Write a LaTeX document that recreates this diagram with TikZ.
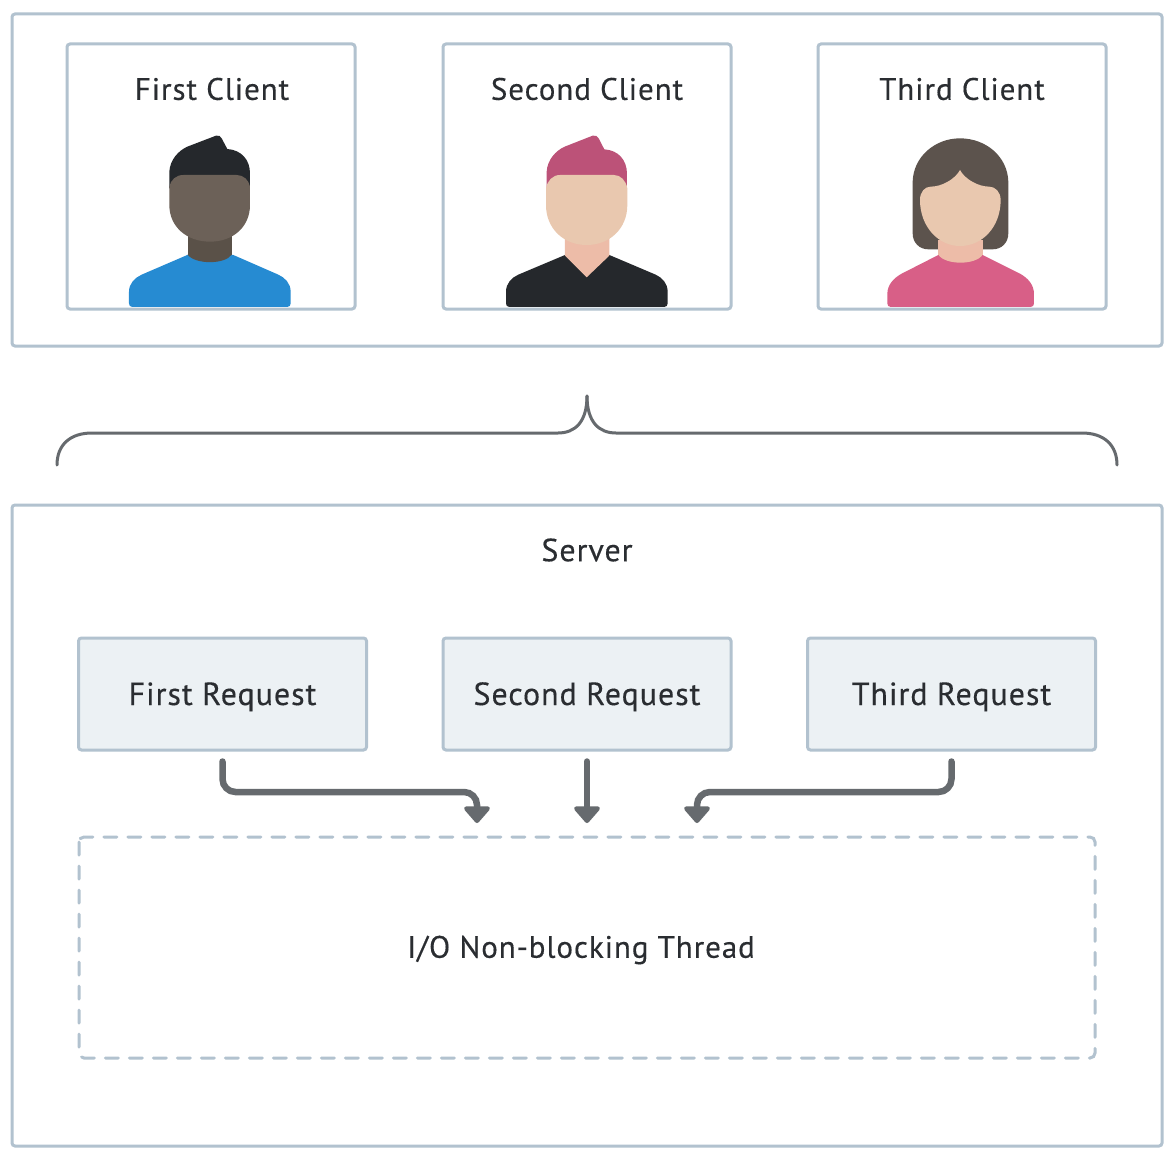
\documentclass[tikz,border=0pt]{standalone}
\usepackage{fontspec}
\setmainfont[LetterSpace=3,FakeBold=0.3]{PT Sans}
\usetikzlibrary{arrows.meta,calc}
\definecolor{edge}{HTML}{B2C2CF}
\definecolor{reqfill}{HTML}{ECF1F4}
\definecolor{ink}{HTML}{2A2D31}
\definecolor{conn}{HTML}{666A6E}
\definecolor{hairdark}{HTML}{25282C}
\definecolor{darkskin}{HTML}{6C6158}
\definecolor{darkneck}{HTML}{5A5148}
\definecolor{shirtblue}{HTML}{268BD2}
\definecolor{skin}{HTML}{E9C8AF}
\definecolor{neckpink}{HTML}{EDBCA8}
\definecolor{hairpink}{HTML}{BC5278}
\definecolor{hairbrown}{HTML}{5C534D}
\definecolor{pinktop}{HTML}{D85F87}
\tikzset{
  outerbox/.style={draw=edge,line width=3pt,rounded corners=3pt,fill=white,inner sep=0pt},
  clientbox/.style={draw=edge,line width=3pt,rounded corners=3pt,minimum width=288pt,minimum height=265pt,inner sep=0pt},
  reqbox/.style={outerbox,fill=reqfill,minimum width=288pt,minimum height=112pt,font=\fontsize{32}{38}\selectfont,text=ink,text height=24pt,text depth=2pt},
  label/.style={font=\fontsize{31}{37}\selectfont,text=ink,inner sep=0pt},
  threadbox/.style={draw=edge,line width=3pt,rounded corners=5pt,dash pattern=on 13pt off 11pt,line cap=round},
  flow/.style={draw=conn,line width=6.5pt,line cap=round,rounded corners=13pt,-{Triangle[length=18pt,width=30pt,round]}},
  bracket/.style={draw=conn,line width=3pt,line cap=round},
  avatar/.style={x=0.3333pt,y=-0.3333pt}
}
\begin{document}
\begin{tikzpicture}[x=1pt,y=-1pt]
\useasboundingbox (0,0) rectangle (1175,1164);
\fill[white] (0,0) rectangle (1175,1164);
% containers
\node[outerbox,minimum width=1150pt,minimum height=332pt] (clients) at (587,180) {};
% avatar 1
\begin{scope}[shift={(100,120)},avatar]
\fill[shirtblue] (97,561) .. controls (90,561) and (87,556) .. (87,550) -- (87,515) .. controls (87,490) and (105,473) .. (125,464) -- (262,405) -- (400,405) -- (535,464) .. controls (555,473) and (572,490) .. (572,515) -- (572,550) .. controls (572,556) and (569,561) .. (562,561) -- cycle;
\fill[darkneck] (263,345) rectangle (395,405);
\fill[darkneck] (263,404) .. controls (285,434) and (375,434) .. (395,404) -- cycle;
\fill[hairdark] (208,205) -- (208,155) .. controls (210,120) and (235,92) .. (262,80) -- (348,47) .. controls (356,45) and (362,48) .. (365,55) -- (382,87) .. controls (425,90) and (450,120) .. (450,160) -- (450,210) -- cycle;
\fill[darkskin] (208,200) .. controls (212,180) and (228,165) .. (250,165) -- (410,165) .. controls (430,165) and (447,180) .. (450,200) -- (450,255) .. controls (450,320) and (400,365) .. (330,365) .. controls (260,365) and (208,320) .. (208,255) -- cycle;
\end{scope}
% avatar 2
\begin{scope}[shift={(480,120)},avatar]
\fill[hairdark] (88,561) .. controls (81,561) and (78,556) .. (78,550) -- (78,515) .. controls (78,490) and (95,473) .. (115,464) -- (255,405) -- (388,405) -- (527,464) .. controls (547,473) and (563,490) .. (563,515) -- (563,550) .. controls (563,556) and (560,561) .. (553,561) -- cycle;
\fill[neckpink] (255,345) -- (388,345) -- (388,407) -- (320,472) -- (255,407) -- cycle;
\fill[hairpink] (200,205) -- (200,155) .. controls (202,120) and (227,92) .. (254,80) -- (338,47) .. controls (346,45) and (353,48) .. (356,55) -- (373,88) .. controls (416,91) and (440,120) .. (441,160) -- (441,205) -- cycle;
\fill[skin] (198,205) .. controls (202,182) and (218,165) .. (240,165) -- (402,165) .. controls (422,165) and (438,182) .. (442,205) -- (442,255) .. controls (442,325) and (390,375) .. (320,375) .. controls (250,375) and (198,325) .. (198,255) -- cycle;
\end{scope}
% avatar 3
\begin{scope}[shift={(860,120)},avatar]
\fill[pinktop] (92,561) .. controls (85,561) and (82,556) .. (82,550) -- (82,522) .. controls (82,495) and (100,475) .. (125,461) -- (235,405) -- (368,405) -- (480,461) .. controls (505,475) and (522,495) .. (522,522) -- (522,550) .. controls (522,556) and (519,561) .. (512,561) -- cycle;
\fill[neckpink] (235,345) rectangle (368,405);
\fill[neckpink] (235,404) .. controls (255,436) and (348,436) .. (368,404) -- cycle;
\fill[hairbrown] (158,185) .. controls (160,110) and (225,55) .. (300,55) .. controls (378,55) and (443,110) .. (445,185) -- (445,340) .. controls (445,368) and (425,388) .. (398,388) -- (205,388) .. controls (178,388) and (158,368) .. (158,340) -- cycle;
\fill[neckpink] (235,360) rectangle (368,405);
\fill[skin] (300,150) .. controls (285,178) and (245,200) .. (212,200) .. controls (195,200) and (180,215) .. (180,240) .. controls (180,320) and (235,378) .. (300,378) .. controls (368,378) and (422,320) .. (422,240) .. controls (422,215) and (405,200) .. (388,200) .. controls (355,200) and (315,178) .. (300,150) -- cycle;
\end{scope}
\node[clientbox] (c1) at (211,176.5) {};
\node[clientbox] (c2) at (587,176.5) {};
\node[clientbox] (c3) at (962,176.5) {};
\node[label] (t1) at (212,89) {First Client};
\node[label] (t2) at (587,89) {Second Client};
\node[label] (t3) at (962,89) {Third Client};
% brace
\coordinate (bl) at (57,465);
\coordinate (br) at (1117,465);
\coordinate (bt) at (587,396);
\draw[bracket] (bl) .. controls (57,445) and (70,433) .. (92,433) -- (558,433) .. controls (575,433) and (587,422) .. (bt);
\draw[bracket] (br) .. controls (1117,445) and (1104,433) .. (1082,433) -- (616,433) .. controls (599,433) and (587,422) .. (bt);
% server
\node[outerbox,minimum width=1150pt,minimum height=641pt] (server) at (587,825.5) {};
\node[label,font=\fontsize{32}{38}\selectfont] (srv) at (587,550) {Server};
\node[reqbox] (r1) at (222.5,694) {First Request};
\node[reqbox] (r2) at (587,694) {Second Request};
\node[reqbox] (r3) at (951.5,694) {Third Request};
\draw[threadbox] (79,837) rectangle (1095,1058);
\node[label] (io) at (581,950) {I/O Non-blocking Thread};
% connectors
\coordinate (a1) at (477,823);
\coordinate (a2) at (587,823);
\coordinate (a3) at (697,823);
\draw[flow,shorten <=10pt] (r1.south) -- (r1.south |- 0,792) -- (a1 |- 0,792) -- (a1);
\draw[flow,shorten <=10pt] (r2.south) -- (a2);
\draw[flow,shorten <=10pt] (r3.south) -- (r3.south |- 0,792) -- (a3 |- 0,792) -- (a3);
\end{tikzpicture}
\end{document}
